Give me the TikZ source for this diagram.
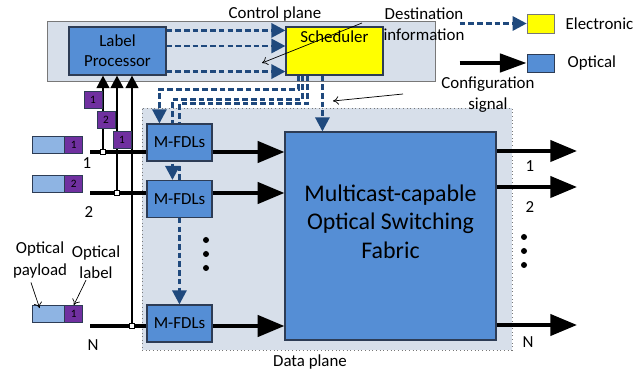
\documentclass[tikz,border=0pt]{standalone}
\usepackage{fontspec}
\setmainfont{Carlito}
\usepackage{xcolor}
\usetikzlibrary{arrows.meta, positioning, calc, backgrounds}

\definecolor{planefill}{RGB}{215,223,234}
\definecolor{planeedge}{RGB}{120,120,120}
\definecolor{boxblue}{RGB}{85,142,213}
\definecolor{boxedge}{RGB}{45,60,85}
\definecolor{ctrlblue}{RGB}{31,73,125}
\definecolor{labelpurple}{RGB}{112,48,160}
\definecolor{payloadblue}{RGB}{142,180,227}
\definecolor{schedyellow}{RGB}{255,255,0}

\begin{document}
\begin{tikzpicture}[
        x=0.025cm, y=-0.025cm,
        boxsize/.style 2 args={minimum width=#1*0.025cm, minimum height=#2*0.025cm},
        blk/.style={draw=boxedge, fill=boxblue, line width=0.8pt, inner sep=0pt,
            align=center, font=\fontsize{12}{14.5}\selectfont},
        plane/.style={fill=planefill, line width=0.6pt, inner sep=0pt},
        pay/.style={draw=boxedge, fill=payloadblue, line width=0.6pt, inner sep=0pt},
        lab/.style={draw=boxedge, fill=labelpurple, line width=0.6pt, inner sep=0pt,
            font=\fontsize{8}{9}\selectfont, boxsize={18}{17}},
        jct/.style={draw=black, fill=white, line width=0.5pt, inner sep=0pt,
            minimum size=4pt},
        txt/.style={align=center, font=\fontsize{12}{15}\selectfont, inner sep=1pt},
        ctrl/.style={ctrlblue, line width=2pt, dash pattern=on 4pt off 2.2pt,
            -{Triangle[length=10pt, width=10pt]}},
        optin/.style={line width=2.8pt, -{Triangle[length=19pt, width=15pt]}},
        optup/.style={line width=1.8pt, -{Triangle[length=9pt, width=9pt]}},
        pointer/.style={line width=0.5pt, -{To[length=4pt, width=6pt]}}
    ]
        \useasboundingbox (0,0) rectangle (639,373);
        % Control plane
        \node[blk, boxsize={97}{48}] (lp) at (117.5,51) {Label\\Processor};
        \node[blk, fill=schedyellow, boxsize={97}{48},
            label={[anchor=north, inner sep=3pt, font=\fontsize{12}{14.5}\selectfont]north:Scheduler}]
            (sch) at (334.5,51) {};
        \node[txt] (cptxt) at (275,14) {Control plane};
        % Data plane
        \node[blk, boxsize={211}{208}, font=\fontsize{17}{20.5}\selectfont] (fab) at (390.5,236)
            {Multicast-capable\\Optical Switching\\Fabric\\[0pt]\mbox{}};
        \node[blk, boxsize={65}{37}] (m1) at (179.5,142.5) {M-FDLs};
        \node[blk, boxsize={65}{37}] (m2) at (179.5,199) {M-FDLs};
        \node[blk, boxsize={65}{37}] (m3) at (179.5,323.5) {M-FDLs};
        \node[txt] (dptxt) at (310,362) {Data plane};
        % Packets
        \node[pay, boxsize={32}{17}] (p1) at (48,144.5) {};
        \node[lab, right=0pt of p1] (l1) {1};
        \node[pay, boxsize={32}{17}] (p2) at (48,183.5) {};
        \node[lab, right=0pt of p2] (l2) {2};
        \node[pay, boxsize={32}{17}] (pN) at (48,314) {};
        \node[lab, right=0pt of pN] (lN) {1};
        % Inputs
        \coordinate (in1) at (90,152);
        \coordinate (in2) at (90,193);
        \coordinate (inN) at (90,326);
        \coordinate (j1) at (103,152);
        \coordinate (j2) at (117,193);
        \coordinate (jN) at (132,326);
        \draw[line width=2.8pt] (in1) -- (in1 -| m1.west);
        \draw[line width=2.8pt] (in2) -- (in2 -| m2.west);
        \draw[line width=2.8pt] (inN) -- (inN -| m3.west);
        \draw[optup] (j1) -- (j1 |- lp.south);
        \draw[optup] (j2) -- (j2 |- lp.south);
        \draw[optup] (jN) -- (jN |- lp.south);
        \node[jct] at (j1) {};
        \node[jct] at (j2) {};
        \node[jct] at (jN) {};
        \node[lab] (t1) at (93,100) {1};
        \node[lab] (t2) at (106,120) {2};
        \node[lab] (t3) at (122,140) {1};
        \node[txt] at (87,163) {1};
        \node[txt] at (89,212) {2};
        \node[txt] at (93,345) {N};
        % M-FDLs to fabric
        \draw[optin] (m1.east |- in1) -- (in1 -| fab.west);
        \draw[optin] (m2.east |- in2) -- (in2 -| fab.west);
        \draw[optin] (m3.east |- inN) -- (inN -| fab.west);
        % Outputs
        \coordinate (out1) at (577,151);
        \coordinate (out2) at (577,187);
        \coordinate (outN) at (577,325);
        \draw[optin] (out1 -| fab.east) -- (out1);
        \draw[optin] (out2 -| fab.east) -- (out2);
        \draw[optin] (outN -| fab.east) -- (outN);
        \node[txt] at (530,166) {1};
        \node[txt] at (530,207) {2};
        \node[txt] at (528,342) {N};
        % Dots
        \foreach \y in {240,254,268} \fill (206,\y) circle (3);
        \foreach \y in {237,251,265} \fill (524,\y) circle (3);
        % Label processor to scheduler
        \draw[ctrl] ($(lp.north east)+(0,4)$) -- ($(sch.north west)+(0,4)$);
        \draw[ctrl] ($(lp.east)+(0,-5)$) -- ($(sch.west)+(0,-5)$);
        \draw[ctrl] ($(lp.south east)+(0,-4)$) -- ($(sch.south west)+(0,-4)$);
        % Configuration signal
        \draw[ctrl] ($(sch.south west)+(37,0)$) -- ($(fab.north west)+(38,0)$);
        % Planes and control lines behind the boxes
        \begin{scope}[on background layer]
            \node[plane, draw=planeedge, boxsize={388}{60}] (cp) at (241,51) {};
            \node[plane, draw=planeedge, dotted, boxsize={370}{242}] (dp) at (327,229) {};
            \draw[ctrl] ($(sch.south west)+(13,0)$) -- ++(0,14) -| ($(m1.north west)+(13,0)$);
            \draw[ctrl] ($(sch.south west)+(17,0)$) -- ++(0,24) -| ($(m2.north west)+(26,0)$);
            \draw[ctrl] ($(sch.south west)+(22,0)$) -- ++(0,28) -| ($(m3.north west)+(33,0)$);
        \end{scope}
        % Annotations
        \node[txt] (dest) at (424,24) {Destination\\information};
        \coordinate (destfrom) at (362,23);
        \coordinate (destto) at (262,63);
        \draw[pointer] (destfrom) -- (destto);
        \node[txt] (conf) at (488,95) {Configuration\\signal};
        \coordinate (conffrom) at (403,94);
        \coordinate (confto) at (333,101);
        \draw[pointer] (conffrom) -- (confto);
        \node[txt] (paytxt) at (40,260) {Optical\\payload};
        \node[txt] (labtxt) at (96,262) {Optical\\label};
        \draw[pointer] ($(paytxt.south)+(-9,3)$) -- ($(pN.north west)+(8,3)$);
        \draw[pointer] ($(labtxt.south)+(-10,0)$) -- (lN.north);
        % Legend
        \node[draw=planeedge, fill=schedyellow, line width=0.4pt, boxsize={27}{19}] (lgE) at (540.5,23.5) {};
        \node[draw=boxedge, fill=boxblue, line width=0.6pt, boxsize={27}{18}] (lgO) at (540.5,63) {};
        \node[txt, anchor=west] at (564,24) {Electronic};
        \node[txt, anchor=west] at (566,63) {Optical};
        \draw[ctrl] ($(lgE.west)+(-67,0)$) -- (lgE.west);
        \draw[line width=2.8pt, -{Triangle[length=19pt, width=13pt]}] ($(lgO.west)+(-67,0)$) -- (lgO.west);
    \end{tikzpicture}
\end{document}
